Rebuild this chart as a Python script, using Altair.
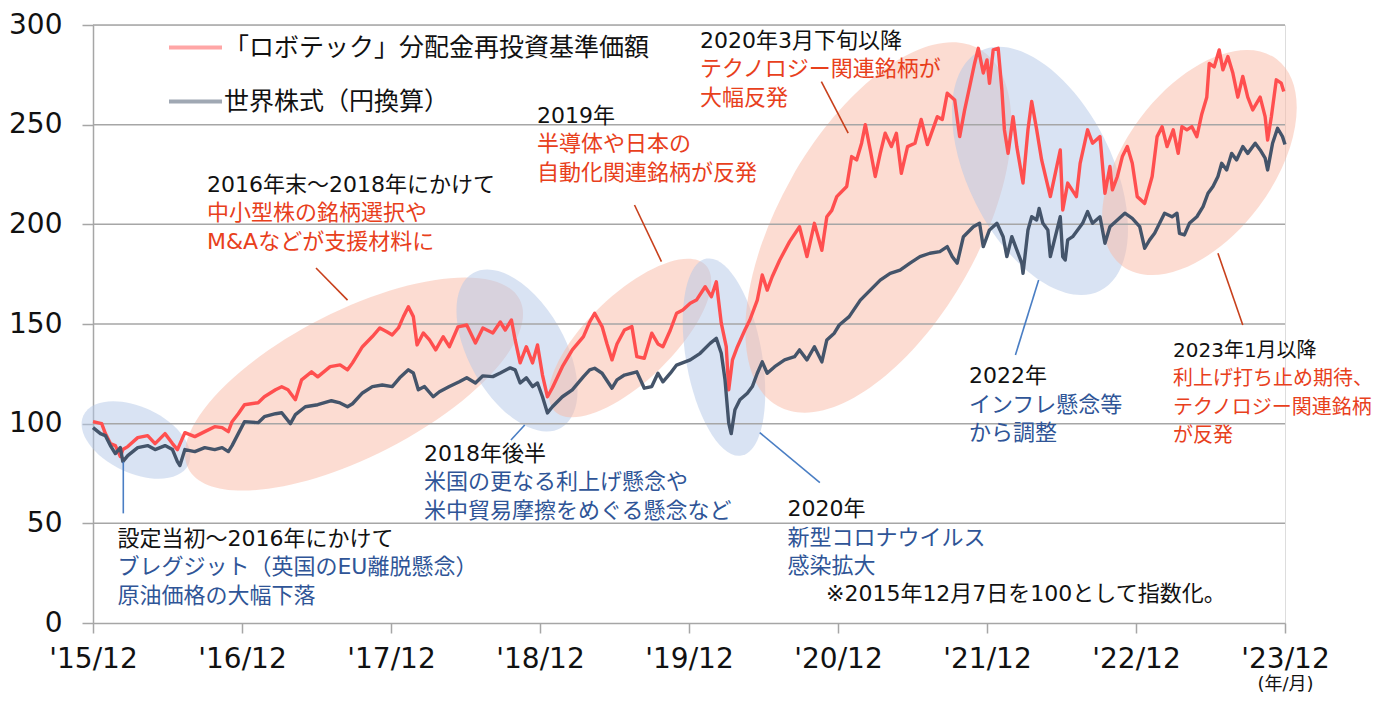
import json
import altair as alt
import pandas as pd

# ---------------- data ----------------
SERIES = ["「ロボテック」分配金再投資基準価額", "世界株式（円換算）"]

# months since 2015/12, index values (2015/12/7 = 100)
ROBO_M = [0.0, 0.7, 1.0, 1.4, 1.8, 2.2, 2.4, 2.8, 3.6, 4.4, 5.0, 5.8, 6.4, 6.8, 7.4, 8.2, 9.0, 9.8, 10.4, 10.9,
          11.2, 11.7, 12.2, 13.3, 13.8, 14.7, 15.2, 15.7, 16.3, 16.8, 17.6, 18.1, 19.1, 19.9, 20.5, 20.9, 21.7,
          22.5, 23.1, 23.7, 24.1, 24.6, 25.0, 25.4, 25.8, 26.1, 26.6, 27.1, 27.6, 28.2, 28.7, 29.4, 30.1, 30.8,
          31.4, 32.2, 32.8, 33.2, 33.7, 34.0, 34.4, 34.9, 35.4, 35.8, 36.2, 36.6, 37.0, 37.8, 38.6, 39.5, 40.0,
          40.4, 41.0, 41.4, 41.8, 42.2, 42.8, 43.4, 43.8, 44.4, 45.0, 45.5, 45.9, 46.5, 47.0, 47.5, 48.1, 48.6,
          49.3, 49.8, 50.2, 50.6, 51.0, 51.2, 51.5, 51.9, 52.5, 52.9, 53.5, 53.9, 54.3, 54.7, 55.3, 56.1, 56.9,
          57.5, 58.1, 58.7, 59.1, 59.5, 59.9, 60.7, 61.1, 61.5, 61.9, 62.2, 62.6, 63.0, 63.4, 63.8, 64.3, 64.7,
          65.1, 65.6, 66.2, 66.7, 67.2, 68.0, 68.4, 68.8, 69.4, 69.8, 70.2, 70.6, 71.0, 71.3, 71.7, 72.0, 72.2,
          72.5, 72.9, 73.2, 73.4, 73.7, 74.1, 74.4, 74.9, 75.3, 75.6, 76.0, 76.4, 77.1, 77.5, 77.9, 78.1, 78.5,
          79.2, 79.5, 80.1, 80.5, 81.1, 81.5, 81.9, 82.1, 82.5, 82.9, 83.3, 83.7, 84.1, 84.7, 85.3, 85.7, 86.1,
          86.5, 87.0, 87.4, 87.7, 88.1, 88.5, 88.9, 89.3, 89.7, 89.9, 90.3, 90.7, 91.0, 91.4, 91.8, 92.2, 92.6,
          93.0, 93.4, 94.0, 94.4, 94.6, 94.9, 95.3, 95.7, 95.9]
ROBO_V = [101, 100, 95, 90, 89, 83.5, 87, 88.5, 93, 94, 90, 95, 90, 87, 95.5, 93.5, 96, 98.5, 98, 96,
          101, 105, 109.5, 110.5, 113.5, 117, 118.5, 117, 112, 122, 126, 123.5, 128.6, 129.5, 127, 130.5, 138.6,
          143.7, 148, 146, 144.5, 148, 153.7, 158.7, 153.7, 139.5, 145.5, 142, 137, 143.6, 138.6, 148.6, 149.5, 140.5,
          148, 145.5, 151, 147, 152, 142, 130.5, 138.6, 130.5, 139.5, 124.4, 113.5, 118, 128.6, 137, 143.7, 151,
          155.4, 148.7, 140, 132, 140, 147, 148.7, 133.6, 132.8, 145.4, 140, 138.6, 147, 155.4, 157, 160.4, 162,
          168.7, 163.7, 171.2, 150.4, 138.6, 117, 132, 138.6, 147, 152, 162, 174.6, 167, 173.7, 182, 191.3, 198.8,
          183.8, 200.5, 187, 203.8, 207, 213.9, 219, 234, 232.3, 240.7, 250, 237.3, 224, 235.6, 245.7, 239, 245.7,
          225.6, 239, 240.7, 252.6, 240, 254, 252.6, 265.8, 262.4, 244, 257.4, 269, 280.7, 288.3, 275.9, 282.5, 270.8,
          287.5, 288.3, 267.4, 247.5, 235.6, 254, 239, 220.7, 247.5, 261.6, 247.5, 232.3, 213.9, 225.6, 237.3, 207.2, 220.7,
          213.9, 230.6, 247.4, 240.7, 244, 215.6, 229, 217.3, 224, 234, 239, 230.6, 213.9, 210.5, 224, 244, 249,
          239, 247.4, 235.6, 249, 247.4, 249, 244, 255.4, 263.8, 280.7, 279, 287.5, 277.5, 284.2, 275.9, 263.8, 274.2,
          263.8, 257.4, 263.8, 254, 242.3, 254, 272.5, 270.8, 266.6]

WORLD_M = [0.0, 0.6, 1.0, 1.4, 1.8, 2.2, 2.4, 2.8, 3.6, 4.4, 5.0, 5.8, 6.4, 6.8, 7.0, 7.4, 8.2, 9.0, 9.8, 10.4,
           10.9, 11.2, 11.7, 12.2, 13.3, 13.8, 14.7, 15.2, 15.9, 16.3, 17.1, 18.1, 19.2, 19.9, 20.5, 20.9, 21.7,
           22.5, 23.3, 24.1, 24.7, 25.4, 25.8, 26.2, 26.7, 27.4, 27.9, 28.7, 29.5, 30.1, 30.8, 31.4, 32.2, 32.8,
           33.6, 34.0, 34.4, 34.9, 35.4, 35.8, 36.2, 36.6, 37.0, 37.8, 38.6, 39.5, 40.0, 40.4, 41.0, 41.8, 42.2,
           42.8, 43.8, 44.4, 45.0, 45.5, 45.9, 46.5, 47.0, 48.1, 48.9, 49.7, 50.2, 50.6, 50.9, 51.2, 51.4, 51.7,
           52.1, 52.7, 53.1, 53.5, 53.9, 54.3, 54.9, 55.7, 56.5, 56.9, 57.5, 58.1, 58.7, 59.1, 59.7, 60.1, 60.9,
           61.8, 62.6, 63.4, 64.2, 65.0, 65.8, 66.6, 67.4, 68.2, 68.8, 69.2, 69.6, 70.1, 70.9, 71.4, 71.7, 72.2,
           72.8, 73.3, 73.6, 74.0, 74.4, 74.8, 74.9, 75.3, 75.6, 76.0, 76.2, 76.5, 76.9, 77.1, 77.5, 77.9, 78.1,
           78.3, 78.5, 78.9, 79.3, 79.7, 80.1, 80.5, 81.1, 81.5, 81.9, 82.5, 83.1, 83.7, 84.3, 84.7, 85.1, 85.5,
           85.9, 86.3, 86.9, 87.3, 87.5, 87.9, 88.3, 88.9, 89.4, 89.8, 90.2, 90.6, 90.9, 91.3, 91.7, 92.1, 92.6,
           93.0, 93.6, 94.0, 94.4, 94.6, 95.0, 95.4, 95.8, 96.0]
WORLD_V = [98, 95, 94, 89, 85, 88, 81, 84, 88, 89, 87, 89, 87, 81, 79, 87, 86, 88, 87, 88,
           86, 89, 95, 101, 100.5, 103.5, 105, 105.5, 100, 104.5, 108.5, 109.5, 111.5, 110.4, 108.5, 110, 115.4,
           118.6, 119.4, 118.6, 123, 127, 125.4, 117, 118.6, 113.5, 116, 118.6, 121, 123, 120.4, 124, 123.6, 125.4,
           128, 127, 120.4, 123, 118.6, 120.4, 113.5, 105.4, 108.5, 113.5, 117, 123.6, 127, 127.8, 125.3, 117.8, 122,
           124.4, 126, 117.8, 118.6, 125.3, 121, 125.3, 129.4, 132, 135.3, 140.3, 142.8, 135.3, 122, 100.3, 95, 107,
           112, 115.3, 118.6, 125.3, 131, 125.3, 128.6, 132, 133.6, 137, 132, 138.6, 131, 142, 145.4, 149.5, 153.7,
           162, 167, 172, 175.4, 177, 180.5, 183.8, 185.5, 186.3, 188.8, 183.8, 180.5, 193.8, 198.8, 200.5, 188.8, 197.2,
           200.5, 193.8, 183.8, 193.8, 187.2, 180.5, 175.4, 197.2, 203.8, 202.2, 208, 200.5, 197.2, 183.8, 193.8, 203.8, 183.8,
           182.1, 192.2, 193.8, 197.2, 200.5, 206.4, 200.5, 203.8, 190.5, 198.8, 202.2, 205.6, 203, 198.8, 188, 192.2, 195.5,
           200.5, 205.6, 203.8, 205.6, 195.5, 194.7, 200.5, 203.8, 208.9, 215.6, 219, 224, 230.6, 227.3, 235.6, 232.3, 239,
           235.6, 240.7, 237.3, 233.2, 227.3, 240.7, 248.2, 244, 240]

X_TICKS = [0, 12, 24, 36, 48, 60, 72, 84, 96]
X_LABELS = ["'15/12", "'16/12", "'17/12", "'18/12", "'19/12", "'20/12", "'21/12", "'22/12", "'23/12"]
Y_TICKS = [0, 50, 100, 150, 200, 250, 300]

# annotation blocks: anchor (month, value) of the heading line
ANN_M = [9.18, 35.76, 48.89, 26.66, 1.97, 55.94, 70.55, 86.98]
ANN_V = [224.8, 259.4, 297.0, 89.8, 47.2, 62.2, 128.9, 141.5]
ANN_HEAD = ["2016年末～2018年にかけて", "2019年", "2020年3月下旬以降", "2018年後半",
            "設定当初～2016年にかけて", "2020年", "2022年", "2023年1月以降"]
ANN_BODY = ["中小型株の銘柄選択や\nM&Aなどが支援材料に",
            "半導体や日本の\n自動化関連銘柄が反発",
            "テクノロジー関連銘柄が\n大幅反発",
            "米国の更なる利上げ懸念や\n米中貿易摩擦をめぐる懸念など",
            "ブレグジット（英国のEU離脱懸念）\n原油価格の大幅下落",
            "新型コロナウイルス\n感染拡大",
            "インフレ懸念等\nから調整",
            "利上げ打ち止め期待、\nテクノロジー関連銘柄\nが反発"]
ANN_KIND = ["up", "up", "up", "down", "down", "down", "down", "up"]

NOTE_M = [59.03]
NOTE_V = [19.6]
NOTE_TEXT = ["※2015年12月7日を100として指数化。"]

# leader lines
LEAD_M1 = [17.96, 43.61, 58.66, 34.77, 2.44, 53.70, 76.16, 90.60]
LEAD_V1 = [178.1, 209.7, 271.6, 99.3, 80.9, 95.5, 172.1, 185.5]
LEAD_M2 = [20.50, 45.78, 60.82, 33.66, 2.44, 58.54, 74.29, 92.60]
LEAD_V2 = [162.0, 181.3, 245.7, 91.8, 55.0, 70.4, 134.5, 149.5]
LEAD_KIND = ["up", "up", "up", "down", "down", "down", "down", "up"]

# highlight ellipses: centre (month, value)
ELL_M = [3.46, 21.02, 34.15, 43.25, 50.82, 63.26, 76.27, 89.11]
ELL_V = [91.8, 119.9, 136.7, 143.0, 133.4, 198.4, 226.8, 231.0]
ELL_KIND = ["down", "up", "down", "up", "down", "up", "down", "up"]

# ---------------- styles ----------------
W, H = 1192, 598
FONT = "DejaVu Sans, Noto Sans CJK JP"
RED_LINE = "#FF4F4F"
NAVY_LINE = "#44546A"
TEXT_COL = {"up": "#E8401C", "down": "#2F5597"}
LEAD_COL = {"up": "#C8401C", "down": "#4A7EC4"}
ELL_COL = {"up": "#F9B9A6", "down": "#B4C7E7"}
ANN_FS = [22, 22, 22, 22, 22, 22, 22, 20]
# ellipse geometry in pixels: semi-major, semi-minor, rotation (deg, clockwise)
ELL_A = [58, 186, 89, 105, 100, 205, 134, 129]
ELL_B = [33, 73, 48, 43, 38, 100, 72, 74]
ELL_ANG = [25, 333, 60.5, 316, 80, 299.4, 63.4, 306.7]
GRID_COL = "#A6A6A6"

# ---------------- tables ----------------
lines_df = pd.DataFrame({
    "m": ROBO_M + WORLD_M,
    "v": ROBO_V + WORLD_V,
    "series": [SERIES[0]] * len(ROBO_M) + [SERIES[1]] * len(WORLD_M),
})

ell_df = pd.DataFrame({
    "m": ELL_M,
    "v": ELL_V,
    "fill": [ELL_COL[k] for k in ELL_KIND],
    "size": [4 * a * a for a in ELL_A],
    "angle": ELL_ANG,
    "shape": [f"M-1,0A1,{b / a:.4f} 0 1,1 1,0A1,{b / a:.4f} 0 1,1 -1,0Z" for a, b in zip(ELL_A, ELL_B)],
})

grid_df = pd.DataFrame({"v": Y_TICKS[1:]})

ann_df = pd.DataFrame({
    "m": ANN_M, "v": ANN_V, "head": ANN_HEAD, "body": ANN_BODY,
    "col": [TEXT_COL[k] for k in ANN_KIND], "fs": ANN_FS,
})
note_df = pd.DataFrame({"m": NOTE_M, "v": NOTE_V, "head": NOTE_TEXT})

lead_df = pd.DataFrame({
    "m": LEAD_M1, "v": LEAD_V1, "m2": LEAD_M2, "v2": LEAD_V2,
    "col": [LEAD_COL[k] for k in LEAD_KIND],
})

# ---------------- scales / axes ----------------
xscale = alt.Scale(domain=[0, 96], nice=False, zero=False)
yscale = alt.Scale(domain=[0, 300], nice=False)

label_expr = json.dumps(X_LABELS) + "[round(datum.value / 12)]"
xaxis = alt.Axis(values=X_TICKS, labelExpr=label_expr, grid=False, labelFlush=False,
                 labelOverlap=False,
                 labelFont="DejaVu Sans", labelFontSize=28, labelColor="#111111",
                 labelPadding=12, tickSize=10, tickColor=GRID_COL, tickWidth=1.5,
                 domainColor=GRID_COL, domainWidth=1.5,
                 title="(年/月)", titleFont=FONT, titleFontSize=18, titleFontWeight="normal",
                 titleColor="#111111", titleX=W, titleY=61, titleAlign="center",
                 titleBaseline="middle", titleAnchor="start")
yaxis = alt.Axis(values=Y_TICKS, grid=False, title=None, labelFlush=False,
                 labelFont="DejaVu Sans", labelFontSize=28, labelColor="#111111",
                 labelPadding=20, tickSize=11, tickColor=GRID_COL, tickWidth=1.5,
                 domainColor=GRID_COL, domainWidth=1.5)

X = alt.X("m:Q", scale=xscale, axis=xaxis)
Y = alt.Y("v:Q", scale=yscale, axis=yaxis)

ellipses = alt.Chart(ell_df).mark_point(filled=True, opacity=0.5, strokeWidth=0).encode(
    x=X, y=Y,
    shape=alt.Shape("shape:N", scale=None),
    size=alt.Size("size:Q", scale=None),
    angle=alt.Angle("angle:Q", scale=None),
    color=alt.Color("fill:N", scale=None),
)

grid = alt.Chart(grid_df).mark_rule(color=GRID_COL, strokeWidth=1.5).encode(
    y=Y, x=alt.datum(0, scale=xscale), x2=alt.datum(96),
)

lines = alt.Chart(lines_df).mark_line(strokeWidth=3.4, strokeJoin="round").encode(
    x=X, y=Y,
    color=alt.Color("series:N", sort=SERIES,
                    scale=alt.Scale(domain=SERIES, range=[RED_LINE, NAVY_LINE]),
                    legend=alt.Legend(title=None, orient="none", legendX=74, legendY=-6,
                                      symbolType="stroke", symbolSize=2809, symbolStrokeWidth=4,
                                      symbolOpacity=1,
                                      labelFont=FONT, labelFontSize=25, labelColor="#111111",
                                      labelLimit=800, labelOffset=0, rowPadding=12, padding=0)),
)

leaders = alt.Chart(lead_df).mark_rule(strokeWidth=1.6).encode(
    x=X, y=Y, x2="m2:Q", y2="v2:Q",
    color=alt.Color("col:N", scale=None),
)

heads = alt.Chart(ann_df).mark_text(align="left", baseline="top", font=FONT,
                                    color="#111111").encode(
    x=X, y=Y, text="head:N", size=alt.Size("fs:Q", scale=None))

bodies = alt.Chart(ann_df).mark_text(align="left", baseline="top", font=FONT,
                                     dy=28.5, lineBreak="\n", lineHeight=28.5).encode(
    x=X, y=Y, text="body:N", color=alt.Color("col:N", scale=None),
    size=alt.Size("fs:Q", scale=None))

note = alt.Chart(note_df).mark_text(align="left", baseline="top", font=FONT, fontSize=22,
                                    color="#111111").encode(x=X, y=Y, text="head:N")

chart = alt.layer(ellipses, grid, lines, leaders, heads, bodies, note).properties(
    width=W, height=H,
    padding={"left": 85, "top": 17, "right": 90, "bottom": 73},
    autosize=alt.AutoSizeParams(type="none"),
).configure_view(stroke=None).configure(background="white")

chart.save("out.html", embed_options={"renderer": "svg", "actions": False})
